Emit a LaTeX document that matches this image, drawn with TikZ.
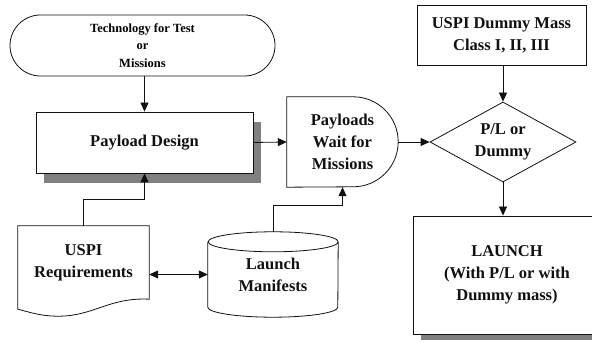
\documentclass[tikz,border=0pt]{standalone}
\usepackage{fontspec}
\setmainfont{Liberation Serif}
\usetikzlibrary{arrows.meta,shapes.geometric,shapes.misc,shadows}
\definecolor{ink}{HTML}{111111}
\definecolor{shade}{HTML}{808080}

\begin{document}
\begin{tikzpicture}[x=1pt,y=1pt,
    line/.style={draw=ink,line width=.8pt},
    arr/.style={line,-{Triangle[length=9pt,width=8pt]}},
    dblarr/.style={line,{Triangle[length=9pt,width=8pt]}-{Triangle[length=9pt,width=8pt]}},
    lbl/.style={font=\fontsize{16.5}{22}\selectfont\bfseries,align=center,text=ink},
    boxed/.style={lbl,line,fill=white,rectangle,inner sep=0pt},
    shadowed/.style={drop shadow={shadow xshift=8pt,shadow yshift=#1,fill=shade,opacity=1}}]
    \path[use as bounding box] (0,0) rectangle (592,342);
    % shapes
    \node[line,rounded rectangle,minimum width=265,minimum height=61,inner sep=0pt,
          font=\fontsize{12.5}{17.5}\selectfont\bfseries,align=center] (tech) at (142.5,296.5)
          {Technology for Test\\or\\Missions};
    \node[boxed,shadowed=-10pt,minimum width=217,minimum height=61] (design) at (144.5,199.5) {Payload Design};
    \node[lbl,inner sep=0pt,minimum width=131,minimum height=73] (req) at (83.5,79.5) {USPI\\Requirements};
    \draw[line] (req.south west) -- (req.north west) -- (req.north east) -- (req.south east)
          .. controls +(-40,2) and +(35,0) .. ([shift={(-25,-17)}]req.south)
          .. controls +(-18,0) and +(12,-3) .. ([yshift=-10pt]req.south west) -- cycle;
    \node[lbl,inner sep=0pt,minimum width=130,minimum height=85] (cyl) at (273,67.5) {Launch\\Manifests};
    \draw[line] ([yshift=-10pt]cyl.north west) -- ([yshift=10pt]cyl.south west)
          arc[start angle=180,end angle=360,x radius=65pt,y radius=10pt]
          -- ([yshift=-10pt]cyl.north east)
          arc[start angle=0,end angle=360,x radius=65pt,y radius=10pt];
    \node[lbl,inner sep=0pt,minimum width=111,minimum height=90] (wait) at (342.5,200) {Payloads\\Wait for\\Missions};
    \draw[line] (wait.south west) -- (wait.north west) -- ([xshift=-45pt]wait.north east)
          arc[start angle=90,end angle=-90,radius=45pt] -- cycle;
    \node[lbl,line,diamond,aspect=1.8,inner sep=0pt,minimum width=146,minimum height=80] (dia) at (503,200) {P/L or\\Dummy};
    \node[boxed,minimum width=169,minimum height=60] (dummy) at (501.5,307) {USPI Dummy Mass\\Class I, II, III};
    \node[boxed,shadowed=-6pt,minimum width=188,minimum height=118] (launch) at (507,67)
          {LAUNCH\\(With P/L or with\\Dummy mass)};
    % connectors
    \draw[arr] (design.north |- tech.south) -- (design.north);
    \draw[arr] (req.north) -- ++(0,26) -| (design.south);
    \draw[dblarr] (cyl.west -| req.east) -- (cyl.west);
    \draw[arr] (cyl.north) -- ++(0,26) -| (wait.south);
    \draw[arr] (design.east) -- (wait.west);
    \draw[arr] (wait.east) -- (dia.west);
    \draw[arr] (dia.north |- dummy.south) -- (dia.north);
    \draw[arr] (dia.south) -- (dia.south |- launch.north);
\end{tikzpicture}
\end{document}
